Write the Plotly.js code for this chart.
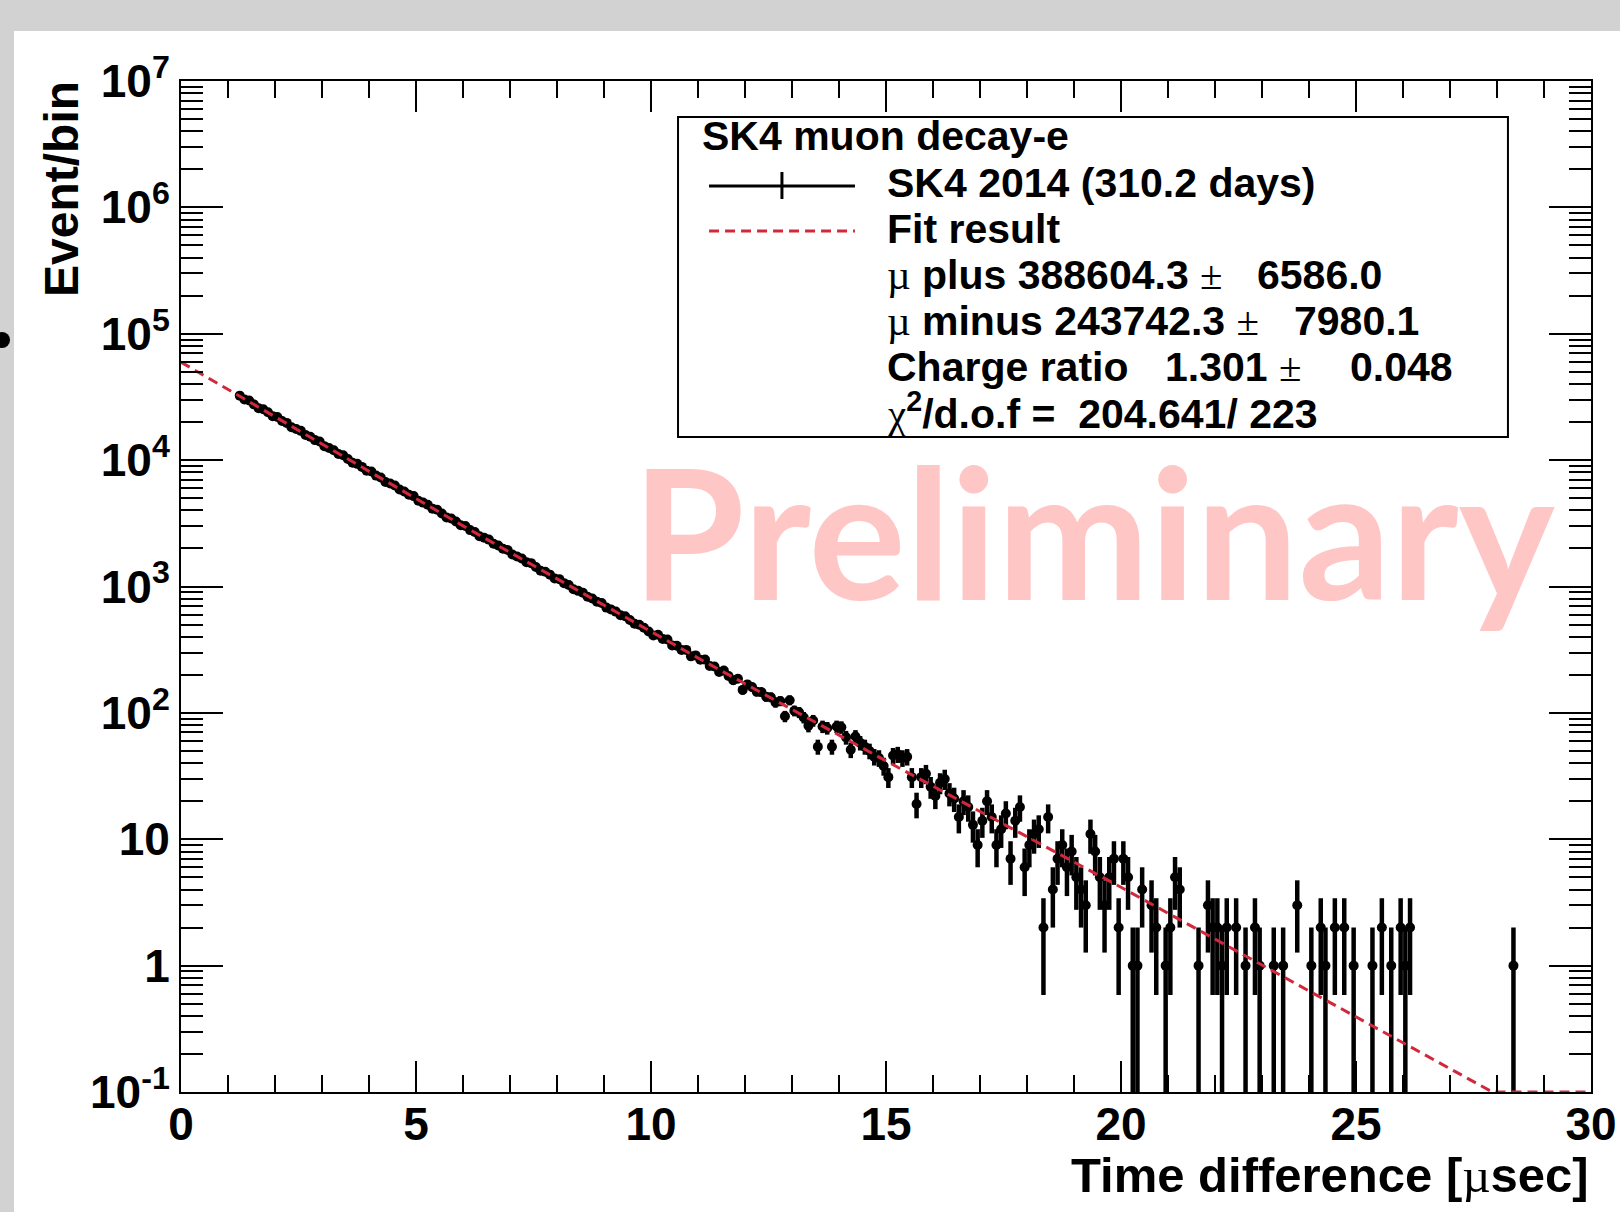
<!DOCTYPE html>
<html><head><meta charset="utf-8">
<script src="https://cdn.plot.ly/plotly-3.0.1.min.js"></script>
<style>
html,body{margin:0;padding:0;background:#d2d2d2;width:1620px;height:1212px;overflow:hidden;}
#frame{position:absolute;left:14px;top:31px;width:1606px;height:1181px;background:#fff;}
#chart{position:absolute;left:0;top:0;width:1606px;height:1181px;}
#dot{position:absolute;left:-6px;top:332px;width:16px;height:16px;border-radius:50%;background:#000;}
</style></head><body>
<div id="frame"><div id="chart"></div></div>
<div id="dot"></div>
<script>
// ---- data ----
var timeBins = [
1.25,1.35,1.45,1.55,1.65,1.75,1.85,1.95,2.05,2.15,2.25,2.35,2.45,2.55,2.65,2.75,2.85,2.95,
3.05,3.15,3.25,3.35,3.45,3.55,3.65,3.75,3.85,3.95,4.05,4.15,4.25,4.35,4.45,4.55,4.65,4.75,4.85,4.95,
5.05,5.15,5.25,5.35,5.45,5.55,5.65,5.75,5.85,5.95,6.05,6.15,6.25,6.35,6.45,6.55,6.65,6.75,6.85,6.95,
7.05,7.15,7.25,7.35,7.45,7.55,7.65,7.75,7.85,7.95,8.05,8.15,8.25,8.35,8.45,8.55,8.65,8.75,8.85,8.95,
9.05,9.15,9.25,9.35,9.45,9.55,9.65,9.75,9.85,9.95,10.05,10.15,10.25,10.35,10.45,10.55,10.65,10.75,10.85,10.95,
11.05,11.15,11.25,11.35,11.45,11.55,11.65,11.75,11.85,11.95,12.05,12.15,12.25,12.35,12.45,12.55,12.65,12.75,12.85,12.95,
13.05,13.15,13.25,13.35,13.45,13.55,13.65,13.75,13.85,13.95,14.05,14.15,14.25,14.35,14.45,14.55,14.65,14.75,14.85,14.95,
15.05,15.15,15.25,15.35,15.45,15.55,15.65,15.75,15.85,15.95,16.05,16.15,16.25,16.35,16.45,16.55,16.65,16.75,16.85,16.95,
17.05,17.15,17.25,17.35,17.45,17.55,17.65,17.75,17.85,17.95,18.05,18.15,18.25,18.35,18.45,18.55,18.65,18.75,18.85,18.95,
19.05,19.15,19.25,19.35,19.45,19.55,19.65,19.75,19.85,19.95,20.05,20.15,20.25,20.35,20.45,20.65,20.75,20.95,
21.05,21.15,21.25,21.65,21.85,21.95,22.05,22.15,22.25,22.45,22.65,22.85,22.95,23.25,23.45,23.75,
24.05,24.25,24.35,24.55,24.75,24.95,25.35,25.55,25.75,25.95,26.05,26.15,28.35];
var eventCounts = [
32380,30200,29610,27620,25750,25250,23910,22290,21970,20390,19700,18180,17650,17050,15820,15290,14400,14050,
12900,12460,11980,11170,10940,10210,9520,9340,8840,8250,8120,7540,7280,6720,6530,6300,5850,5650,5320,5190,
4770,4610,4430,4130,4050,3780,3520,3450,3270,3050,3010,2795,2700,2500,2430,2350,2180,2110,1990,1945,
1790,1730,1665,1555,1530,1427,1333,1309,1241,1158,1143,1063,1027,950,924,893,830,803,757,740,
681,658,633,592,581,543,507,498,472,440,409,415,384,381,342,340,315,315,280,285,
263,264,235,233,211,216,196,181,186,152,168,160,147,146,134,133,121,124,94,126,
104,101,92,79,87,54,78,76,54,78,77,64,51,65,58,54,50,45,44,38,
31,46,47,44,45,31,19,31,33,26,22,28,30,23,21,15,20,18,13,9,
14,20,15,9,12,16,7,14,18,6,9,11,12,2,15,4,7,9,6,8,
5,4,3,11,8,5,3,5,7,2,7,5,1,1,4,3,2,1,
2,5,4,1,3,2,2,1,2,2,1,2,1,1,1,3,
1,2,1,2,2,1,1,2,1,2,1,2,1];
var fitTime   = [0,1,2,3,4,5,6,7,8,9,10,11,12,13,14,15,16,17,18,19,20,21,22,23,24,25,26,27,27.9,30];
var fitCounts = [59600,36300,21880,13340,8130,4955,3020,1862,1148,708,437,272,170,106,66.1,41.7,26.3,16.6,10.5,6.61,4.17,2.60,1.62,1.01,0.631,0.394,0.245,0.153,0.1,0.1];
var yTickVals = [0.1,1,10,100,1000,10000,100000,1000000,10000000];
var yTickText = ['10<sup>-1</sup>','1','10','10<sup>2</sup>','10<sup>3</sup>','10<sup>4</sup>','10<sup>5</sup>','10<sup>6</sup>','10<sup>7</sup>'];
var legendHeader = 'SK4 muon decay-e';
var dataLabel = 'SK4 2014 (310.2 days)';
var fitLabel = 'Fit result';
var muPlus = ['388604.3','6586.0'];
var muMinus = ['243742.3','7980.1'];
var chargeRatio = ['1.301','0.048'];
var chi2 = ['204.641','223'];

// ---- drawing ----
var FONT = '"Liberation Sans", Arial, sans-serif';
var SERIF = "<span style='font-family:Liberation Serif;font-weight:normal'>";
var black = '#000';
var red = '#d2283c';

var dataTrace = {
  x: timeBins, y: eventCounts, type: 'scatter', mode: 'markers', name: dataLabel,
  marker: {color: black, size: 10, symbol: 'circle'},
  error_y: {type: 'sqrt', visible: true, color: black, thickness: 4.5, width: 0},
  error_x: {type: 'constant', value: 0.05, visible: true, color: black, thickness: 4.5, width: 0},
  showlegend: false, hoverinfo: 'skip'
};
var fitTrace = {
  x: fitTime, y: fitCounts, type: 'scatter', mode: 'lines', name: fitLabel,
  line: {color: red, width: 3, dash: '10px,6px'},
  showlegend: false, hoverinfo: 'skip'
};

function txt(t, x, y, anchor, size) {
  return {text: t, x: x, y: y, xref: 'paper', yref: 'paper', xanchor: anchor || 'left', yanchor: 'middle',
    showarrow: false, font: {family: FONT, size: size || 41, color: black, weight: 'bold'}};
}

var annotations = [
  txt(legendHeader, 0.3681, 0.9456),
  txt(dataLabel, 0.4993, 0.8991),
  txt(fitLabel, 0.4993, 0.8536),
  txt(SERIF + 'µ</span> plus ' + muPlus[0] + ' ' + SERIF + '±</span>', 0.4993, 0.8081),
  txt(muPlus[1], 0.8532, 0.8081, 'right'),
  txt(SERIF + 'µ</span> minus ' + muMinus[0] + ' ' + SERIF + '±</span>', 0.4993, 0.7626),
  txt(muMinus[1], 0.8794, 0.7626, 'right'),
  txt('Charge ratio', 0.4993, 0.7171),
  txt(chargeRatio[0] + ' ' + SERIF + '±</span>', 0.7965, 0.7171, 'right'),
  txt(chargeRatio[1], 0.9035, 0.7171, 'right'),
  txt(SERIF + 'χ</span><sup>2</sup>/d.o.f =  ' + chi2[0] + '/ ' + chi2[1], 0.4993, 0.6736),
  {text: 'Time difference [' + SERIF + 'µ</span>sec]', x: 1, y: -0.0821, xref: 'paper', yref: 'paper',
   xanchor: 'right', yanchor: 'middle', showarrow: false, font: {family: FONT, size: 49, color: black, weight: 'bold'}},
  {text: 'Event/bin', x: -0.0844, y: 0.8932, xref: 'paper', yref: 'paper', textangle: -90,
   xanchor: 'center', yanchor: 'middle', showarrow: false, font: {family: FONT, size: 48, color: black, weight: 'bold'}},
  {text: 'Preliminary', x: 0.6470, y: 0.5560, xref: 'paper', yref: 'paper', xanchor: 'center', yanchor: 'middle',
   showarrow: false, font: {family: 'Lato, "Open Sans", sans-serif', size: 182, color: '#ffc6c6', weight: 'bold'}}
];

var shapes = [
  {type: 'rect', xref: 'paper', yref: 'paper', x0: 0.3525, x1: 0.9411, y0: 0.6479, y1: 0.9644,
   fillcolor: '#fff', line: {color: black, width: 2}, layer: 'above'},
  {type: 'line', xref: 'paper', yref: 'paper', x0: 0.3745, x1: 0.4780, y0: 0.8961, y1: 0.8961, line: {color: black, width: 3}},
  {type: 'line', xref: 'paper', yref: 'paper', x0: 0.4262, x1: 0.4262, y0: 0.8833, y1: 0.9100, line: {color: black, width: 3}},
  {type: 'line', xref: 'paper', yref: 'paper', x0: 0.3745, x1: 0.4780, y0: 0.8516, y1: 0.8516, line: {color: red, width: 3, dash: '10px,6px'}}
];

var tickFont = {family: FONT, size: 46, color: black, weight: 'bold'};
var layout = {
  width: 1606, height: 1181,
  margin: {l: 167, r: 29, t: 50, b: 120, pad: 0},
  paper_bgcolor: '#fff', plot_bgcolor: '#fff',
  font: {family: FONT, color: black},
  showlegend: false,
  xaxis: {
    range: [0, 30], tickmode: 'linear', tick0: 0, dtick: 5,
    showline: true, linecolor: black, linewidth: 2, mirror: 'ticks',
    ticks: 'inside', ticklen: 31, tickwidth: 2, tickcolor: black,
    minor: {ticks: 'inside', dtick: 1, ticklen: 17, tickwidth: 2, tickcolor: black},
    showgrid: false, zeroline: false, tickfont: tickFont, ticklabelstandoff: -9, automargin: false
  },
  yaxis: {
    type: 'log', range: [-1, 7], tickmode: 'array', tickvals: yTickVals, ticktext: yTickText,
    showline: true, linecolor: black, linewidth: 2, mirror: 'ticks',
    ticks: 'inside', ticklen: 42, tickwidth: 2, tickcolor: black,
    minor: {ticks: 'inside', dtick: 'D1', ticklen: 22, tickwidth: 2, tickcolor: black},
    showgrid: false, zeroline: false, tickfont: tickFont, ticklabelstandoff: 0, automargin: false
  },
  annotations: annotations,
  shapes: shapes
};

Plotly.newPlot('chart', [dataTrace, fitTrace], layout, {displayModeBar: false, staticPlot: true});
</script>
</body></html>
